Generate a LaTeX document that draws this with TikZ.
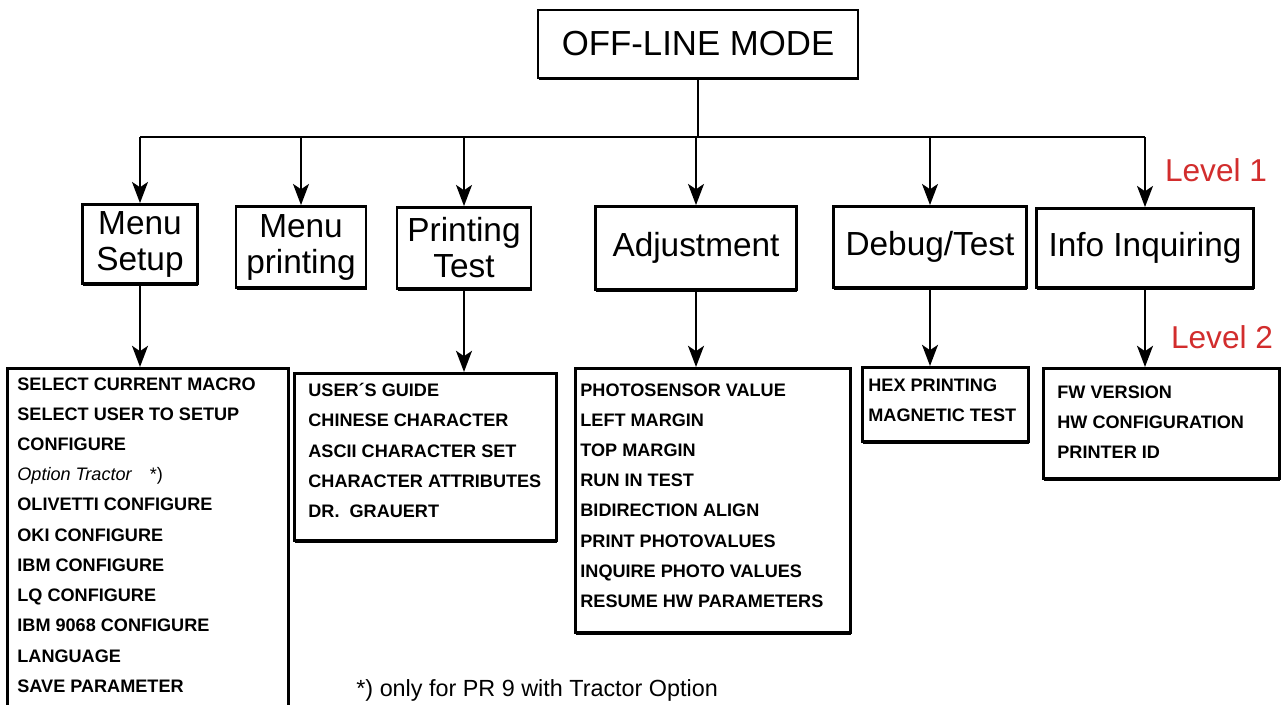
\documentclass[tikz,border=0pt]{standalone}
\usepackage{fontspec}
\setmainfont{Liberation Sans}
\usetikzlibrary{positioning,calc,arrows.meta,shadows}
\definecolor{lvlred}{RGB}{210,45,45}

\begin{document}
\begin{tikzpicture}[x=0.02cm,y=-0.02cm,line width=1.6pt,
		shade/.style={fill=white,general shadow={fill=black,shadow xshift=0.4pt,shadow yshift=-1.3pt}},
		box/.style={draw,shade,rectangle,inner sep=0pt,align=center,font=\fontsize{19}{20.5}\selectfont},
		listbox/.style={draw,shade,rectangle,inner sep=0pt,anchor=north west},
		items/.style={anchor=north west,inner sep=0pt,align=left,font=\fontsize{10.3}{17.2}\selectfont\bfseries},
		arr/.style={-{Stealth[length=12pt,width=9pt,inset=3pt]}},
		lvl/.style={text=lvlred,font=\fontsize{18}{20}\selectfont}]
		\useasboundingbox (0,0) rectangle (1285,704);
		\fill[white] (0,0) rectangle (1285,704);
		%top
		\node[box,minimum width=6.4cm,minimum height=1.36cm,font=\fontsize{19.8}{22}\selectfont] (off) at (698,44) {OFF-LINE MODE};
		\coordinate (bus) at (693,137);
		%level 1
		\node[box,minimum width=2.3cm,minimum height=1.58cm] (setup) at (140,244) {Menu\\Setup};
		\node[box,minimum width=2.6cm,minimum height=1.62cm] (mprint) at (301,247) {Menu\\printing};
		\node[box,minimum width=2.68cm,minimum height=1.62cm] (ptest) at (464,248) {Printing\\Test};
		\node[box,minimum width=4.02cm,minimum height=1.66cm] (adjust) at (696,248) {Adjustment};
		\node[box,minimum width=3.86cm,minimum height=1.62cm] (debug) at (930,247) {Debug/Test};
		\node[box,minimum width=4.34cm,minimum height=1.58cm] (info) at (1145,248) {Info Inquiring};
		\draw (off.south) -- (off.south |- bus);
		\draw (setup |- bus) -- (info |- bus);
		\foreach \n in {setup,mprint,ptest,adjust,debug,info}{
			\draw[arr] (\n |- bus) -- (\n.north);
			}
		\node[lvl] (lvl1) at (1216,170) {Level 1};
		%level 2
		\node[listbox,minimum width=5.62cm,minimum height=6.9cm] (setup-list) at (6,367) {};
		\node[items] (setup-items) at ($(setup-list.north west)+(10,9)$) {SELECT CURRENT MACRO\\SELECT USER TO SETUP\\CONFIGURE\\{\mdseries\itshape Option Tractor}\quad{\mdseries *)}\\OLIVETTI CONFIGURE\\OKI CONFIGURE\\IBM CONFIGURE\\LQ CONFIGURE\\IBM 9068 CONFIGURE\\LANGUAGE\\SAVE PARAMETER};
		\node[listbox,minimum width=5.24cm,minimum height=3.34cm] (ptest-list) at (293,372) {};
		\node[items] (ptest-items) at ($(ptest-list.north west)+(14,10)$) {USER´S GUIDE\\CHINESE CHARACTER\\ASCII CHARACTER SET\\CHARACTER ATTRIBUTES\\DR.\ \ GRAUERT};
		\node[listbox,minimum width=5.5cm,minimum height=5.28cm] (adjust-list) at (574,367) {};
		\node[items] (adjust-items) at ($(adjust-list.north west)+(5,15)$) {PHOTOSENSOR VALUE\\LEFT MARGIN\\TOP MARGIN\\RUN IN TEST\\BIDIRECTION ALIGN\\PRINT PHOTOVALUES\\INQUIRE PHOTO VALUES\\RESUME HW PARAMETERS};
		\node[listbox,minimum width=3.32cm,minimum height=1.48cm] (debug-list) at (861,366) {};
		\node[items] (debug-items) at ($(debug-list.north west)+(6,11)$) {HEX PRINTING\\MAGNETIC TEST};
		\node[listbox,minimum width=4.72cm,minimum height=2.2cm] (info-list) at (1042,367) {};
		\node[items] (info-items) at ($(info-list.north west)+(14,17)$) {FW VERSION\\HW CONFIGURATION\\PRINTER ID};
		\foreach \n in {setup,ptest,adjust,debug,info}{
			\draw[arr] (\n.south) -- (\n.south |- \n-list.north);
			}
		\node[lvl] (lvl2) at (1222,337) {Level 2};
		\node[anchor=west,inner sep=0pt,font=\fontsize{13.3}{15}\selectfont] (note) at (355,690) {*) only for PR 9 with Tractor Option};
	\end{tikzpicture}
\end{document}
